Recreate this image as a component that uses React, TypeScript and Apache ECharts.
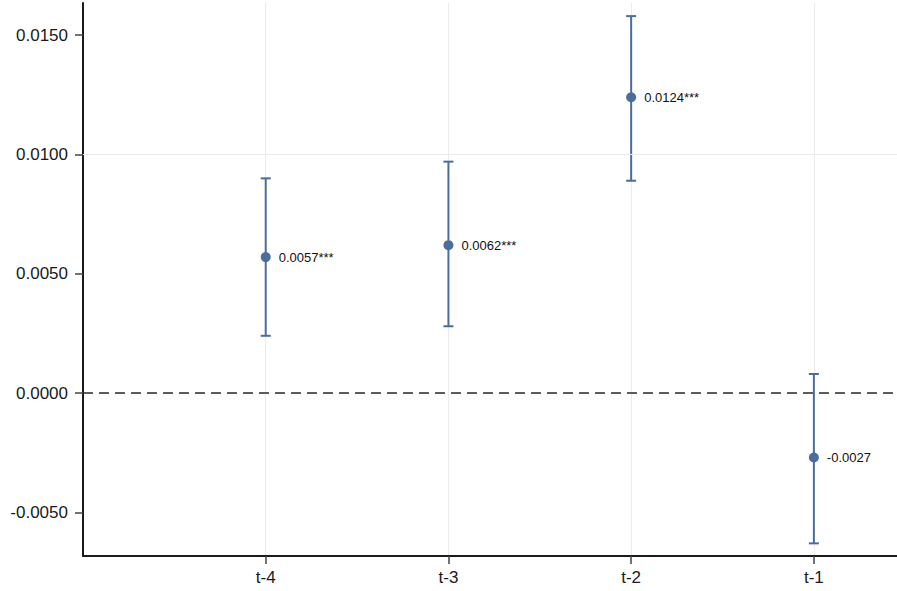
import React, { useEffect, useRef } from "react";
import * as echarts from "echarts";

const categories = ["t-4", "t-3", "t-2", "t-1"];
const categoryPos = [1, 2, 3, 4];
const estimates = [0.0057, 0.0062, 0.0124, -0.0027];
const lower = [0.0024, 0.0028, 0.0089, -0.0063];
const upper = [0.009, 0.0097, 0.0158, 0.0008];
const pointLabels = ["0.0057***", "0.0062***", "0.0124***", "-0.0027"];
const yTicks = [-0.005, 0, 0.005, 0.01, 0.015];

const BLUE = "#4a6d9c";

export default function App() {
  const ref = useRef<HTMLDivElement>(null);
  useEffect(() => {
    if (!ref.current) return;
    const chart = echarts.init(ref.current, null, { renderer: "svg" });
    const font = "'Liberation Sans', Arial, sans-serif";
    chart.setOption({
      animation: false,
      backgroundColor: "#ffffff",
      grid: { left: 83, top: 3, right: 0, bottom: 35, containLabel: false },
      xAxis: {
        type: "value",
        min: 0,
        max: 4.455,
        interval: 1,
        axisLine: { show: true, onZero: false, lineStyle: { color: "#1a1a1a", width: 2 } },
        axisTick: { show: true, length: 8, customValues: categoryPos, lineStyle: { color: "#444", width: 1.5 } },
        axisLabel: {
          customValues: categoryPos,
          formatter: (v: number) => categories[Math.round(v) - 1] ?? "",
          fontSize: 17,
          fontFamily: font,
          color: "#1a1a1a",
          margin: 13,
        },
        splitLine: { show: true, lineStyle: { color: "#ebebeb", width: 1 } },
      },
      yAxis: {
        type: "value",
        min: -0.00683,
        max: 0.01635,
        axisLine: { show: true, onZero: false, lineStyle: { color: "#1a1a1a", width: 2 } },
        axisTick: { show: true, length: 8, customValues: yTicks, lineStyle: { color: "#444", width: 1.5 } },
        axisLabel: {
          customValues: yTicks,
          formatter: (v: number) => v.toFixed(4),
          fontSize: 17,
          fontFamily: font,
          color: "#1a1a1a",
          margin: 15,
        },
        splitLine: { show: false },
      },
      series: [
        {
          type: "line",
          data: [],
          silent: true,
          z: 1,
          markLine: {
            silent: true,
            symbol: ["none", "none"],
            label: { show: false },
            data: yTicks.map((v) =>
              v === 0
                ? { yAxis: v, lineStyle: { color: "#2a2a2a", width: 1.5, type: [10, 6] } }
                : { yAxis: v, lineStyle: { color: "#ebebeb", width: 1, type: "solid" } }
            ),
          },
        },
        {
          type: "custom",
          z: 3,
          data: categoryPos.map((x, i) => [x, lower[i], upper[i]]),
          renderItem: (params: any, api: any) => {
            const x = api.value(0);
            const lo = api.coord([x, api.value(1)]);
            const hi = api.coord([x, api.value(2)]);
            const hw = 5;
            const style = { stroke: BLUE, lineWidth: 2 };
            return {
              type: "group",
              children: [
                { type: "line", shape: { x1: lo[0], y1: lo[1], x2: hi[0], y2: hi[1] }, style },
                { type: "line", shape: { x1: lo[0] - hw, y1: lo[1], x2: lo[0] + hw, y2: lo[1] }, style },
                { type: "line", shape: { x1: hi[0] - hw, y1: hi[1], x2: hi[0] + hw, y2: hi[1] }, style },
              ],
            };
          },
        },
        {
          type: "scatter",
          z: 4,
          symbol: "circle",
          symbolSize: 10,
          itemStyle: { color: BLUE, opacity: 1 },
          data: categoryPos.map((x, i) => ({
            value: [x, estimates[i]],
            label: {
              show: true,
              position: "right",
              distance: 8,
              formatter: pointLabels[i],
              fontSize: 13,
              fontFamily: font,
              color: "#111111",
            },
          })),
        },
      ],
    });
    return () => chart.dispose();
  }, []);
  return (
    <div
      ref={ref}
      style={{ position: "fixed", left: 0, top: 0, width: 897, height: 591, background: "#fff" }}
    />
  );
}
